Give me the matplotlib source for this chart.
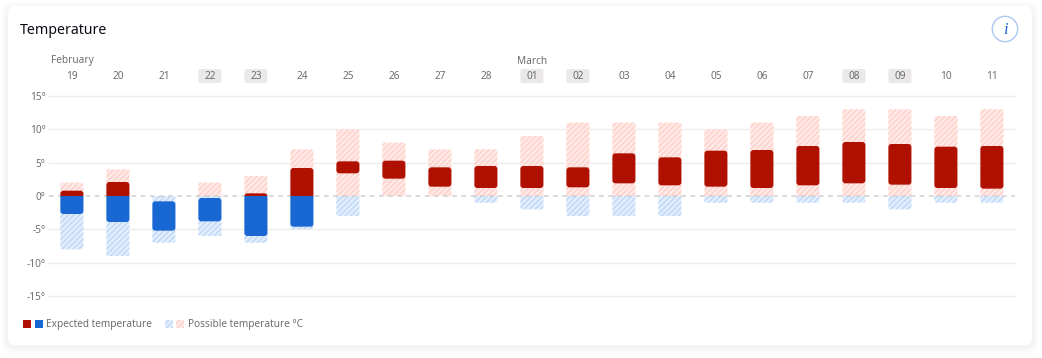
import matplotlib
matplotlib.use("Agg")
import matplotlib.pyplot as plt
from matplotlib.patches import FancyBboxPatch, Rectangle, Circle
from matplotlib.transforms import Affine2D

days = ["19","20","21","22","23","24","25","26","27","28","01","02","03","04","05","06","07","08","09","10","11"]
highlight = ["22","23","01","02","08","09"]
months = {"February": 0, "March": 10}
possible_hi = [2,4,0,2,3,7,10,8,7,7,9,11,11,11,10,11,12,13,13,12,13]
possible_lo = [-8,-9,-7,-6,-7,-5,-3,0,0,-1,-2,-3,-3,-3,-1,-1,-1,-1,-2,-1,-1]
expected_hi = [0.8,2.1,-0.8,-0.3,0.4,4.2,5.2,5.3,4.3,4.5,4.5,4.3,6.4,5.8,6.8,6.9,7.5,8.1,7.8,7.4,7.5]
expected_lo = [-2.7,-3.9,-5.2,-3.8,-6,-4.6,3.4,2.6,1.4,1.2,1.2,1.3,1.9,1.6,1.4,1.2,1.6,1.9,1.7,1.2,1.1]
yticks = [15,10,5,0,-5,-10,-15]
ylabels = ["15°","10°","5°","0°","-5°","-10°","-15°"]

W, H = 1042, 358
RED, BLUE = "#B01000", "#1967D2"
RED_BG, RED_H = "#FFE9E6", "#FFCDC7"
BLUE_BG, BLUE_H = "#E3EEFC", "#BBD4F7"
GREY = "#6E6E6E"
FS = 7.25
HATCH = "//////"

plt.rcParams["font.family"] = ["Noto Sans", "DejaVu Sans"]
plt.rcParams["hatch.linewidth"] = 0.9

fig = plt.figure(figsize=(W/100, H/100), dpi=100, facecolor="white")
px = Affine2D().scale(1, -1).translate(0, H)  # figure pixels, top-left origin

# card with soft shadow
for grow, col in [(6, "#FBFBFB"), (4, "#F8F8F8"), (2, "#F3F3F3")]:
    fig.add_artist(FancyBboxPatch((8-grow, 6-grow+2), 1024+2*grow, 339+2*grow,
                                  boxstyle="round,pad=0,rounding_size=9", fc=col, ec="none",
                                  transform=px, zorder=-3))
fig.add_artist(FancyBboxPatch((8, 6), 1024, 339, boxstyle="round,pad=0,rounding_size=7",
                              fc="white", ec="none", transform=px, zorder=-2))

ax = fig.add_axes([48.9/W, (H-296)/H, 966/W, 200/H])
ax.patch.set_alpha(0)
ax.set_xlim(-0.5, 20.5)
ax.set_ylim(-15, 15)
for s in ax.spines.values():
    s.set_visible(False)

ax.set_yticks(yticks, ylabels)
ax.xaxis.tick_top()
ax.set_xticks(range(len(days)), days)
ax.tick_params(axis="both", length=0, labelsize=FS, labelcolor=GREY)
ax.tick_params(axis="x", pad=10.3)
ax.tick_params(axis="y", pad=2.5)
for y in yticks:
    if y == 0:
        ax.axhline(y, color="#CFCFCF", lw=1.1, ls=(0, (3, 3)), zorder=2, clip_on=False)
    else:
        ax.axhline(y, color="#EEEDED", lw=1, zorder=1, clip_on=False)

XU, YU = 46.0, 200/30
BW = 23/46
aspect = XU/YU

def rounded_pair(i, lo, hi, r_px, zorder, up, down):
    """Draw one bar, split at zero, with rounded outer ends."""
    x0 = i - BW/2
    for (kw, a, b) in ((up, 0, 20), (down, -20, 0)):
        if (a == 0 and hi <= 0) or (b == 0 and lo >= 0):
            continue
        p = FancyBboxPatch((x0, lo), BW, hi-lo,
                           boxstyle=f"round,pad=0,rounding_size={r_px/XU}",
                           mutation_aspect=aspect, zorder=zorder, **kw)
        ax.add_patch(p)
        p.set_clip_path(Rectangle((i-1, a), 2, b-a, transform=ax.transData))

for i in range(len(days)):
    rounded_pair(i, possible_lo[i], possible_hi[i], 2, 1.5,
                 dict(fc=RED_BG, ec=RED_H, lw=0, hatch=HATCH),
                 dict(fc=BLUE_BG, ec=BLUE_H, lw=0, hatch=HATCH))
    rounded_pair(i, expected_lo[i], expected_hi[i], 3, 3,
                 dict(fc=RED, ec="none"), dict(fc=BLUE, ec="none"))

# date chips behind the labels
tr = ax.get_xaxis_transform()
for d in highlight:
    i = days.index(d)
    chip = FancyBboxPatch((i-BW/2, 1.065), BW, 0.07,
                          boxstyle=f"round,pad=0,rounding_size={2/XU}",
                          mutation_aspect=XU/200, fc="#EBE8E8", ec="none",
                          transform=tr, clip_on=False, zorder=0.5)
    ax.add_patch(chip)

for name, i in months.items():
    fig.text(i*46 + (51 if i == 0 else 57), 61, name, transform=px, fontsize=FS, color=GREY,
             ha="left", va="center")

fig.text(20, 30, "Temperature", transform=px, fontsize=10.2, fontweight="bold", color="#0B0B14",
         ha="left", va="center")

# info button
fig.add_artist(Circle((1005, 29), 12.7, fc="white", ec="#A9C8F2", lw=1, transform=px))
fig.text(1005, 29.5, "i", transform=px, fontsize=12, style="italic", family="Liberation Serif",
         color=BLUE, ha="center", va="center")

# legend
def swatch(x, w, **kw):
    fig.add_artist(Rectangle((x, 320), w, 8, transform=px, **kw))

swatch(23, 8, fc=RED, ec="none")
swatch(35, 8, fc=BLUE, ec="none")
swatch(165, 8, fc=BLUE_BG, ec=BLUE_H, lw=0, hatch=HATCH)
swatch(176, 8, fc=RED_BG, ec=RED_H, lw=0, hatch=HATCH)
fig.text(46, 324.5, "Expected temperature", transform=px, fontsize=FS, color=GREY, ha="left", va="center")
fig.text(188, 324.5, "Possible temperature °C", transform=px, fontsize=FS, color=GREY, ha="left", va="center")

fig.savefig("out.png", dpi=100, facecolor="white")
